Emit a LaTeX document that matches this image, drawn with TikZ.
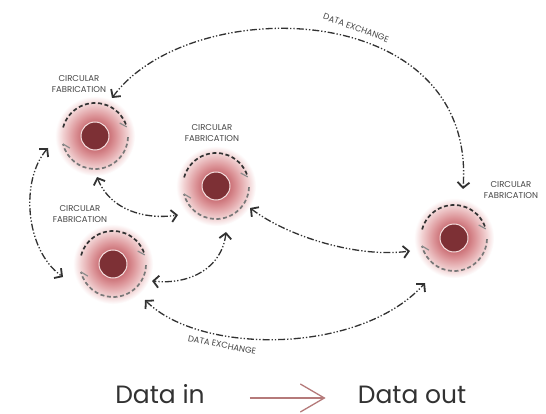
\documentclass[tikz,border=0pt]{standalone}
\usepackage{fontspec}
\setmainfont{Poppins}
\usetikzlibrary{arrows.meta}
\definecolor{ink}{RGB}{50,50,50}
\definecolor{labink}{RGB}{70,70,70}
\definecolor{ringgray}{RGB}{120,120,120}
\definecolor{barbgray}{RGB}{140,140,140}
\definecolor{glowA}{RGB}{200,108,114}
\definecolor{glowM}{RGB}{220,148,152}
\definecolor{glowB}{RGB}{241,208,209}
\definecolor{corefill}{RGB}{125,48,53}
\definecolor{coreline}{RGB}{245,222,222}
\definecolor{legendc}{RGB}{181,122,122}
\pgfdeclareradialshading{glowshade}{\pgfpoint{0bp}{0bp}}{color(0bp)=(glowA); color(8bp)=(glowA); color(13bp)=(glowM); color(20bp)=(glowB); color(25bp)=(white); color(50bp)=(white)}
\tikzset{
  chev/.tip={Straight Barb[length=5.5pt,width=12pt,line width'=1.8pt]},
  flow/.style={draw=ink, line width=1.3pt, dash pattern=on 7pt off 2pt on 1.3pt off 2pt on 1.3pt off 2pt, chev-chev},
  ringtop/.style={draw=ink, line width=1.7pt, dash pattern=on 4pt off 2.6pt},
  ringbot/.style={draw=ringgray, line width=1.7pt, dash pattern=on 4pt off 2.6pt},
  ringbarb/.style={draw=barbgray, line width=1.2pt},
  core/.style={circle, minimum size=28pt, inner sep=0pt, fill=corefill, draw=coreline, line width=1pt},
  lab/.style={font=\fontsize{8.5}{11}\selectfont, text=labink, align=center, inner sep=0pt},
  legtext/.style={font=\fontsize{25}{30}\selectfont, text=ink, inner sep=0pt},
  legarrow/.style={draw=legendc, line width=1.3pt, -{Straight Barb[length=24pt,width=28pt]}}
}
\begin{document}
\begin{tikzpicture}[x=1pt,y=-1pt]
\fill[white] (0,0) rectangle (546,414);
\useasboundingbox (0,0) rectangle (546,414);
\foreach \n/\x/\y in {A/95/136,B/216/186,C/113/264,D/454/238}{
  \shade[shading=glowshade] (\x,\y) circle[radius=40];
  \begin{scope}[shift={(\x,\y)}, y=1pt]
    \draw[ringtop] (165:33) arc[start angle=165,end angle=16,radius=33];
    \draw[ringbarb] (16:33) -- ++(151:8);
    \draw[ringbot] (-2:33) arc[start angle=-2,end angle=-166,radius=33];
    \draw[ringbarb] (-166:33) -- ++(-31:8);
  \end{scope}
  \node[core] (\n) at (\x,\y) {};
}
% labels
\node[lab] (labA) at ([shift={(-16,-52)}]A.center) {CIRCULAR\\FABRICATION};
\node[lab] (labB) at ([shift={(-4,-53)}]B.center) {CIRCULAR\\FABRICATION};
\node[lab] (labC) at ([shift={(-33,-50)}]C.center) {CIRCULAR\\FABRICATION};
\node[lab] (labD) at ([shift={(57,-48)}]D.center) {CIRCULAR\\FABRICATION};
\node[lab, rotate=-20] (exTop) at (356,28) {DATA EXCHANGE};
\node[lab, rotate=-11] (exBot) at (222,345) {DATA EXCHANGE};
% connectors
\draw[flow] ([shift={(17,-38)}]A.center) .. controls +(78,-106) and +(14,-192) .. ([shift={(9,-49)}]D.center);
\draw[flow] ([shift={(-47,12)}]A.center) .. controls +(-28,32) and +(-38,-27) .. ([shift={(-50,13)}]C.center);
\draw[flow] ([shift={(2,41)}]A.center) .. controls +(13,33) and +(-33,5) .. ([shift={(-38,29)}]B.center);
\draw[flow] ([shift={(10,46)}]B.center) .. controls +(-4,36) and +(38,4) .. ([shift={(39,17)}]C.center);
\draw[flow] ([shift={(34,22)}]B.center) .. controls +(40,30) and +(-50,7) .. ([shift={(-44,13)}]D.center);
\draw[flow] ([shift={(32,36)}]C.center) .. controls +(55,55) and +(-65,72) .. ([shift={(-29,45)}]D.center);
% legend
\node[legtext, anchor=base] (din) at (160,403) {Data in};
\node[legtext, anchor=base] (dout) at (412,403) {Data out};
\draw[legarrow] ([shift={(45,-5)}]din.base east) -- ([shift={(-32,-5)}]dout.base west);
\end{tikzpicture}
\end{document}
